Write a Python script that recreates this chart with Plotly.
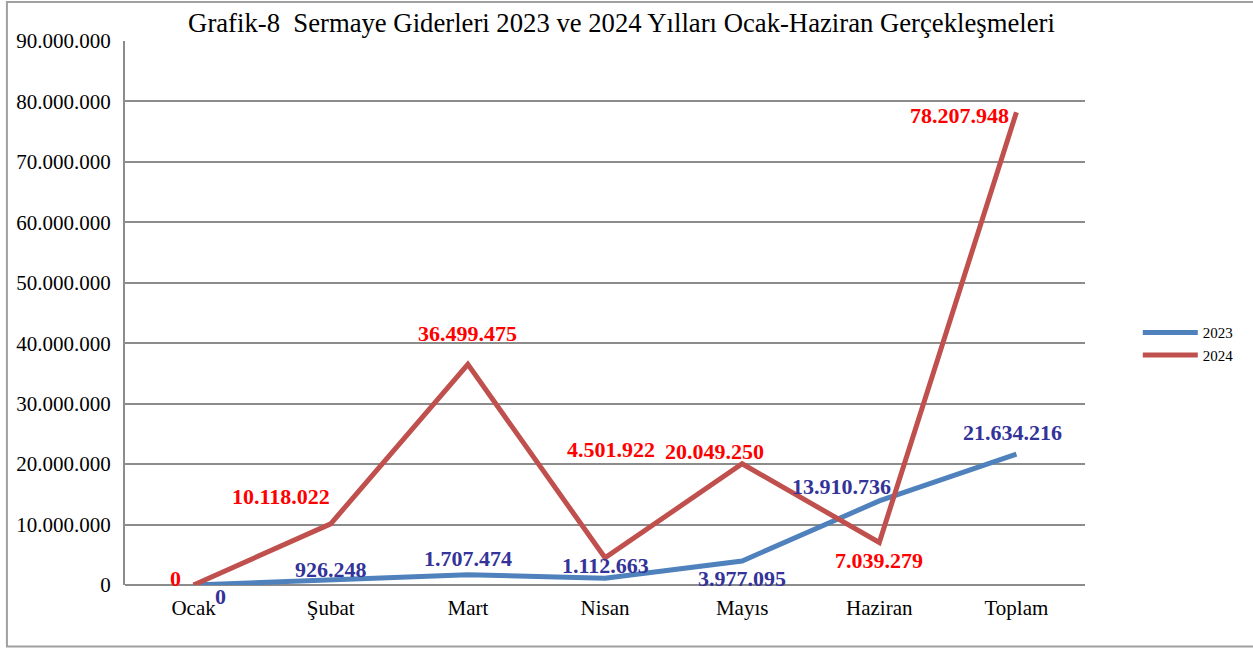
import plotly.graph_objects as go

months = ["Ocak", "Şubat", "Mart", "Nisan", "Mayıs", "Haziran", "Toplam"]
y2023 = [0, 926248, 1707474, 1112663, 3977095, 13910736, 21634216]
y2024 = [0, 10118022, 36499475, 4501922, 20049250, 7039279, 78207948]
y_ticks = [0, 10000000, 20000000, 30000000, 40000000, 50000000,
           60000000, 70000000, 80000000, 90000000]

# label offsets (px) around each point, as in the original sheet
shift2023 = [(27, -11), (0, 10), (0, 16), (0, 13), (0, -18), (-38, 14), (-4, 22)]
shift2024 = [(-18, 7), (-50, 27), (0, 31), (6, 108), (-28, 12), (0, -18), (-57, -3)]

SERIF = "Liberation Serif, Times New Roman, serif"
C23, C24 = "#4F81BD", "#C0504D"
L23, L24 = "#333399", "#FF0000"


def fmt(v):
    return f"{v:,}".replace(",", ".")


fig = go.Figure()
fig.add_trace(go.Scatter(x=months, y=y2023, mode="lines", name="2023",
                         line=dict(color=C23, width=5)))
fig.add_trace(go.Scatter(x=months, y=y2024, mode="lines", name="2024",
                         line=dict(color=C24, width=5)))

ann = []
for vals, shifts, col in [(y2023, shift2023, L23), (y2024, shift2024, L24)]:
    for m, v, (dx, dy) in zip(months, vals, shifts):
        ann.append(dict(x=m, y=v, xref="x", yref="y", text=fmt(v),
                        showarrow=False, xshift=dx, yshift=dy,
                        font=dict(family=SERIF, size=22, color=col, weight="bold")))

fig.update_layout(
    width=1253, height=648,
    margin=dict(l=125, r=168, t=41, b=63),
    paper_bgcolor="white", plot_bgcolor="white",
    separators=",.",
    font=dict(family=SERIF, size=21, color="black"),
    title=dict(text="Grafik-8  Sermaye Giderleri 2023 ve 2024 Yılları Ocak-Haziran Gerçekleşmeleri",
               x=0.496, xanchor="center", y=0.965, yanchor="middle",
               font=dict(family=SERIF, size=26.7, color="black")),
    legend=dict(x=1.055, y=0.494, xanchor="left", yanchor="top",
                font=dict(family=SERIF, size=15, color="black"),
                itemwidth=55, tracegroupgap=0),
    annotations=ann,
    shapes=[dict(type="rect", xref="paper", yref="paper",
                 x0=-0.123, x1=1.2, y0=-0.113, y1=1.0717,
                 line=dict(color="#A0A0A0", width=2), layer="below")],
)

fig.update_xaxes(range=[-0.5, 6.5], showgrid=False, showline=False,
                 ticks="", zeroline=False, ticklabelstandoff=8,
                 tickfont=dict(family=SERIF, size=21, color="black"))
fig.update_yaxes(range=[0, 90000000], tickvals=y_ticks, tickformat=",d",
                 showgrid=True, gridcolor="#8C8C8C", gridwidth=2,
                 zeroline=True, zerolinecolor="#8C8C8C", zerolinewidth=2,
                 showline=True, linecolor="#8C8C8C", linewidth=2,
                 ticks="", ticklabelstandoff=8,
                 tickfont=dict(family=SERIF, size=21, color="black"))

fig.write_html("out.html", config={"displayModeBar": False},
               post_script="document.body.style.margin='0';")
